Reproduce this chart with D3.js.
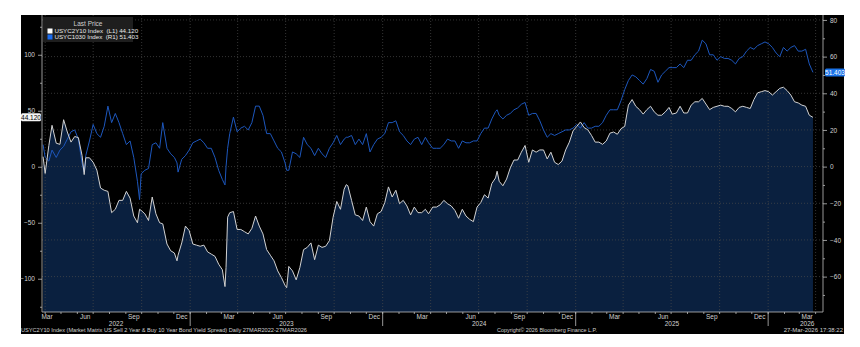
<!DOCTYPE html>
<html><head><meta charset="utf-8">
<script src="https://cdn.jsdelivr.net/npm/d3@7"></script>
<style>
html,body{margin:0;padding:0;background:#fff;}
svg{display:block;}
text{font-family:"Liberation Sans Narrow","Liberation Sans",Arial,sans-serif;}
</style></head>
<body><svg id="c" width="860" height="347"></svg>
<script>
// ---- data ----
const dates = ["2022-03-28","2022-04-01","2022-04-08","2022-04-14","2022-04-22","2022-04-29","2022-05-06","2022-05-13","2022-05-20","2022-05-27","2022-06-03","2022-06-10","2022-06-14","2022-06-17","2022-06-24","2022-07-01","2022-07-08","2022-07-15","2022-07-22","2022-07-29","2022-08-05","2022-08-12","2022-08-19","2022-08-26","2022-09-02","2022-09-09","2022-09-16","2022-09-23","2022-09-27","2022-09-30","2022-10-07","2022-10-14","2022-10-21","2022-10-28","2022-11-04","2022-11-10","2022-11-18","2022-11-25","2022-12-02","2022-12-07","2022-12-09","2022-12-16","2022-12-23","2022-12-30","2023-01-06","2023-01-13","2023-01-20","2023-01-27","2023-02-03","2023-02-10","2023-02-17","2023-02-24","2023-03-03","2023-03-08","2023-03-10","2023-03-13","2023-03-17","2023-03-24","2023-03-31","2023-04-07","2023-04-14","2023-04-21","2023-04-28","2023-05-05","2023-05-12","2023-05-19","2023-05-26","2023-06-02","2023-06-09","2023-06-16","2023-06-23","2023-06-30","2023-07-03","2023-07-07","2023-07-14","2023-07-21","2023-07-28","2023-08-04","2023-08-11","2023-08-18","2023-08-25","2023-09-01","2023-09-08","2023-09-15","2023-09-22","2023-09-29","2023-10-06","2023-10-13","2023-10-20","2023-10-24","2023-10-27","2023-11-03","2023-11-10","2023-11-17","2023-11-24","2023-12-01","2023-12-08","2023-12-15","2023-12-22","2023-12-29","2024-01-05","2024-01-12","2024-01-19","2024-01-26","2024-02-02","2024-02-09","2024-02-16","2024-02-23","2024-03-01","2024-03-08","2024-03-15","2024-03-22","2024-03-28","2024-04-05","2024-04-12","2024-04-19","2024-04-26","2024-05-03","2024-05-10","2024-05-17","2024-05-24","2024-05-31","2024-06-07","2024-06-14","2024-06-21","2024-06-28","2024-07-05","2024-07-12","2024-07-19","2024-07-26","2024-08-02","2024-08-05","2024-08-09","2024-08-16","2024-08-23","2024-08-30","2024-09-06","2024-09-13","2024-09-20","2024-09-27","2024-10-04","2024-10-11","2024-10-18","2024-10-25","2024-11-01","2024-11-08","2024-11-15","2024-11-22","2024-11-29","2024-12-06","2024-12-13","2024-12-20","2024-12-27","2025-01-03","2025-01-10","2025-01-17","2025-01-24","2025-01-31","2025-02-07","2025-02-14","2025-02-21","2025-02-28","2025-03-07","2025-03-14","2025-03-21","2025-03-28","2025-04-04","2025-04-11","2025-04-18","2025-04-25","2025-05-02","2025-05-09","2025-05-16","2025-05-23","2025-05-30","2025-06-06","2025-06-13","2025-06-20","2025-06-27","2025-07-03","2025-07-11","2025-07-18","2025-07-25","2025-08-01","2025-08-08","2025-08-15","2025-08-22","2025-08-29","2025-09-05","2025-09-12","2025-09-19","2025-09-26","2025-10-03","2025-10-10","2025-10-17","2025-10-24","2025-10-31","2025-11-07","2025-11-14","2025-11-21","2025-11-28","2025-12-05","2025-12-12","2025-12-19","2025-12-26","2026-01-02","2026-01-09","2026-01-16","2026-01-23","2026-01-30","2026-02-06","2026-02-13","2026-02-20","2026-02-27","2026-03-06","2026-03-13","2026-03-20","2026-03-27"];
// USYC2Y10 (left axis, bp)
const usyc2y10 = [9,-6,19,37,21,20,42,31,22,27,26,10,-7,8,8,4,-3,-19,-21,-22,-41,-38,-30,-30,-22,-28,-44,-50,-38,-39,-42,-48,-27,-42,-50,-51,-69,-75,-77,-84,-79,-68,-53,-57,-69,-70,-71,-70,-76,-78,-80,-87,-92,-107,-90,-45,-41,-40,-56,-56,-58,-60,-55,-44,-53,-60,-74,-79,-84,-93,-99,-106,-108,-89,-93,-101,-90,-74,-72,-68,-83,-70,-72,-71,-66,-45,-31,-38,-20,-16,-17,-30,-43,-44,-48,-36,-49,-53,-42,-40,-32,-18,-27,-21,-33,-30,-35,-43,-36,-41,-41,-38,-42,-36,-36,-34,-30,-33,-35,-39,-46,-38,-44,-47,-49,-36,-32,-25,-28,-15,-10,-4,-13,-17,-11,-1,6,6,13,19,4,15,13,15,15,7,13,4,2,5,15,22,32,36,40,35,33,28,22,22,20,23,30,31,29,34,36,55,60,54,51,47,51,54,49,46,46,49,53,47,48,54,48,48,55,58,58,61,56,51,53,54,55,54,54,52,49,53,54,53,52,60,66,67,68,67,64,67,70,71,68,64,58,57,55,54,46,44.12];
// USYC1030 (right axis, bp)
const usyc1030 = [12,5,3,9,5,9,11,15,19,20,15,2,-3,6,14,23,18,16,22,33,24,29,24,18,12,14,5,-8,-18,-4,-2,-1,12,13,10,24,10,7,5,2,-3,4,6,9,13,14,15,13,10,10,5,-2,-7,-10,0,10,18,27,19,21,22,20,24,33,33,28,18,18,14,10,8,2,-2,-2,8,7,5,16,12,10,6,10,7,5,10,13,17,12,15,16,16,17,12,15,12,18,8,12,15,16,18,24,24,25,19,17,14,12,15,16,12,16,13,10,10,10,12,15,14,14,10,14,13,13,14,14,18,21,21,26,30,31,28,26,28,29,31,32,34,35,28,29,29,25,20,16,18,17,18,19,20,20,21,23,21,24,21,21,22,22,24,28,31,31,31,36,42,47,50,49,47,45,48,53,52,46,50,52,54,54,54,56,54,58,58,61,63,69,67,61,61,58,60,59,59,58,56,59,60,63,65,64,66,67,68,67,65,62,60,65,63,65,66,63,63,64,56,51.403];
const leftTicks = [100,50,0,-50,-100];
const rightTicks = [80,60,40,20,0,-20,-40,-60];
const monthLabelNames = ["Mar","Jun","Sep","Dec"];
const legendTitle = "Last Price";
const legendRows = ["USYC2Y10 Index  (L1) 44.120","USYC1030 Index  (R1) 51.403"];
const lastLeft = "44.120", lastRight = "51.403";
const footLeft = "USYC2Y10 Index (Market Matrix US Sell 2 Year & Buy 10 Year Bond Yield Spread) Daily 27MAR2022-27MAR2026";
const footMid = "Copyright\u00A9 2026 Bloomberg Finance L.P.";
const footRight = "27-Mar-2026 17:38:22";

// ---- layout ----
const svg = d3.select("#c");
const P = {l:42, r:823, t:15, b:312};
const parse = d3.utcParse("%Y-%m-%d");
const D = dates.map(parse);
const x = d3.scaleUtc().domain([parse("2022-03-26"), parse("2026-04-15")]).range([P.l, P.r]);
const yL = d3.scaleLinear().domain([-129.7, 135.5]).range([P.b, P.t]);
const yR = d3.scaleLinear().domain([-79.3, 82.7]).range([P.b, P.t]);
const axisCol = "#bdbdbd", txtCol = "#d0d0d0";

svg.append("rect").attr("x",21).attr("y",15).attr("width",823).attr("height",319).attr("fill","#000");

// area for white series
const area = d3.area().x((d,i)=>x(D[i])).y0(P.b).y1(d=>yL(d));
svg.append("path").datum(usyc2y10).attr("d",area).attr("fill","#0a203f");

// grid
const g = svg.append("g");
rightTicks.forEach(v=>{
  g.append("line").attr("x1",P.l).attr("x2",P.r).attr("y1",yR(v)).attr("y2",yR(v))
   .attr("stroke","#4a4a4a").attr("stroke-width",0.7).attr("stroke-dasharray","1,2");
});
const quarters = d3.utcMonth.range(x.domain()[0], x.domain()[1]).filter(d=>d.getUTCMonth()%3===0);
quarters.forEach(d=>{
  g.append("line").attr("x1",x(d)).attr("x2",x(d)).attr("y1",P.t).attr("y2",P.b)
   .attr("stroke","#4a4a4a").attr("stroke-width",0.7).attr("stroke-dasharray","1,2");
});

// lines
const lineL = d3.line().x((d,i)=>x(D[i])).y(d=>yL(d));
const lineR = d3.line().x((d,i)=>x(D[i])).y(d=>yR(d));
svg.append("path").datum(usyc1030).attr("d",lineR).attr("fill","none").attr("stroke","#1d57bd").attr("stroke-width",1);
svg.append("path").datum(usyc2y10).attr("d",lineL).attr("fill","none").attr("stroke","#d2d2d2").attr("stroke-width",1);

// axis frame
svg.append("line").attr("x1",P.l).attr("x2",P.l).attr("y1",P.t).attr("y2",P.b).attr("stroke",axisCol).attr("stroke-width",0.8);
svg.append("line").attr("x1",P.r).attr("x2",P.r).attr("y1",P.t).attr("y2",P.b).attr("stroke",axisCol).attr("stroke-width",0.8);
svg.append("line").attr("x1",P.l).attr("x2",P.r).attr("y1",P.b).attr("y2",P.b).attr("stroke",axisCol).attr("stroke-width",0.8);

// left axis
const la = d3.axisLeft(yL).tickValues(leftTicks).tickSize(4).tickFormat(d3.format("d"));
svg.append("g").attr("transform",`translate(${P.l},0)`).call(la);
const lminor = d3.range(-125,135,50);
svg.append("g").attr("transform",`translate(${P.l},0)`).call(d3.axisLeft(yL).tickValues(lminor).tickSize(2).tickFormat(""));
const ra = d3.axisRight(yR).tickValues(rightTicks).tickSize(4).tickFormat(d3.format("d"));
svg.append("g").attr("transform",`translate(${P.r},0)`).call(ra);
svg.append("g").attr("transform",`translate(${P.r},0)`).call(d3.axisRight(yR).tickValues(d3.range(-70,85,20)).tickSize(2).tickFormat(""));
svg.selectAll(".domain").remove();
svg.selectAll(".tick line").attr("stroke",axisCol).attr("stroke-width",0.8);
svg.selectAll(".tick text").attr("fill",txtCol).attr("font-size",6.5).attr("font-family","Liberation Sans Narrow, Liberation Sans, Arial");

// bottom month ticks
const months = d3.utcMonth.range(parse("2022-04-01"), x.domain()[1]);
months.forEach(d=>{
  svg.append("line").attr("x1",x(d)).attr("x2",x(d)).attr("y1",P.b).attr("y2",P.b+2).attr("stroke",axisCol).attr("stroke-width",0.8);
});
// month labels
const mlab = d3.utcMonth.range(parse("2022-03-01"), x.domain()[1]).filter(d=>[2,5,8,11].includes(d.getUTCMonth()));
mlab.forEach(d=>{
  let cx = x(new Date(Date.UTC(d.getUTCFullYear(), d.getUTCMonth(), 16)));
  if (cx < P.l+5) cx = P.l+5;
  svg.append("text").attr("x",cx).attr("y",318.5).attr("text-anchor","middle").attr("fill",txtCol).attr("font-size",6.5)
    .text(monthLabelNames[[2,5,8,11].indexOf(d.getUTCMonth())]);
});
// year separators and labels
const years = [2022,2023,2024,2025,2026];
years.forEach(yv=>{
  const s = new Date(Date.UTC(yv,0,1)), e = new Date(Date.UTC(yv+1,0,1));
  if (yv>2022) svg.append("line").attr("x1",x(s)).attr("x2",x(s)).attr("y1",P.b).attr("y2",326).attr("stroke",axisCol).attr("stroke-width",0.8);
  const a = Math.max(x(s), P.l), b = Math.min(x(e), P.r);
  let cx = (a+b)/2;
  if (b-a < 100) cx = x(new Date(Date.UTC(yv,2,16)));
  svg.append("text").attr("x",cx).attr("y",326).attr("text-anchor","middle").attr("fill",txtCol).attr("font-size",6.5).text(String(yv));
});

// footer
svg.append("text").attr("x",21).attr("y",332).attr("fill",txtCol).attr("font-size",6).attr("textLength",286).attr("lengthAdjust","spacingAndGlyphs").text(footLeft);
svg.append("text").attr("x",497).attr("y",332).attr("fill",txtCol).attr("font-size",6).attr("textLength",100).attr("lengthAdjust","spacingAndGlyphs").text(footMid);
svg.append("text").attr("x",843).attr("y",332).attr("text-anchor","end").attr("fill",txtCol).attr("font-size",6).text(footRight);

// legend
const lg = svg.append("g");
lg.append("rect").attr("x",43).attr("y",17).attr("width",90).attr("height",25).attr("fill","#1e1e1e");
lg.append("text").attr("x",88).attr("y",26).attr("text-anchor","middle").attr("fill",txtCol).attr("font-size",6.5).text(legendTitle);
const lcols = ["#ffffff","#1a6cf0"];
legendRows.forEach((t,i)=>{
  lg.append("rect").attr("x",47.5).attr("y",28.5+i*6).attr("width",5).attr("height",5).attr("fill",lcols[i]);
  lg.append("text").attr("x",54.5).attr("y",33+i*6).attr("fill","#e8e8e8").attr("font-size",6.2).attr("xml:space","preserve").style("white-space","pre").text(t);
});

// last value labels
const yl = yL(usyc2y10[usyc2y10.length-1]);
svg.append("rect").attr("x",21).attr("y",yl-4).attr("width",20).attr("height",8).attr("rx",1.5).attr("fill","#f4f4f4");
svg.append("text").attr("x",31).attr("y",yl+2.3).attr("text-anchor","middle").attr("fill","#000").attr("font-size",6.5).text(lastLeft);
const yr = yR(usyc1030[usyc1030.length-1]);
svg.append("rect").attr("x",825).attr("y",yr-4).attr("width",20).attr("height",8).attr("rx",1.5).attr("fill","#1a73e8");
svg.append("text").attr("x",835).attr("y",yr+2.3).attr("text-anchor","middle").attr("fill","#fff").attr("font-size",6.5).text(lastRight);
</script></body></html>
